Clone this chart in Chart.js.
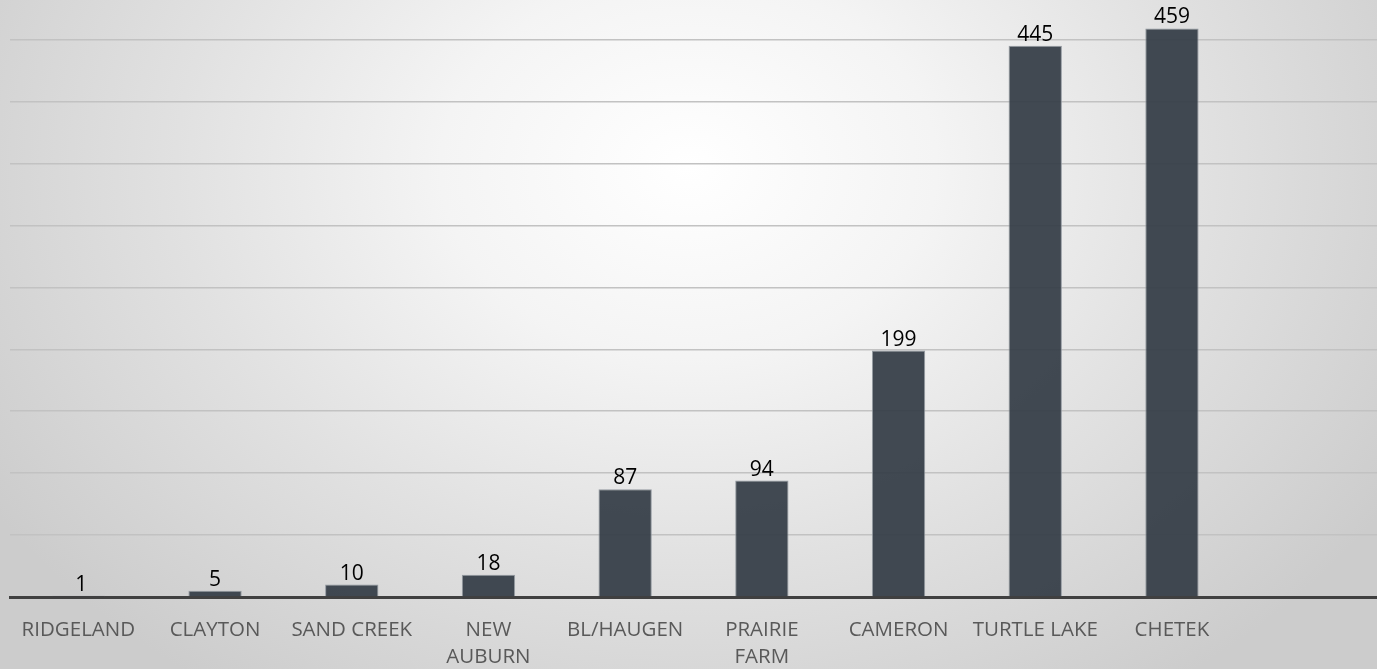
<!DOCTYPE html>
<html>
<head>
<meta charset="utf-8">
<script src="https://cdn.jsdelivr.net/npm/chart.js@4"></script>
<style>
  html, body { margin: 0; padding: 0; }
  body {
    width: 1377px; height: 669px; overflow: hidden;
    background: radial-gradient(ellipse 60% 95% at 50% 25%, #ffffff 0%, #f4f4f4 30%, #e1e1e1 62%, #cccccc 100%);
  }
  #wrap { position: relative; width: 1377px; height: 669px; }
  canvas { display: block; }
</style>
</head>
<body>
<div id="wrap"><canvas id="c" width="1377" height="669"></canvas></div>
<script>
const categories = ['RIDGELAND', 'CLAYTON', 'SAND CREEK', ['NEW', 'AUBURN'], 'BL/HAUGEN', ['PRAIRIE', 'FARM'], 'CAMERON', 'TURTLE LAKE', 'CHETEK', ''];
const values = [1, 5, 10, 18, 87, 94, 199, 445, 459, null];
const gridStep = 50;
const axisMax = 482;

const valueLabels = {
  id: 'valueLabels',
  afterDatasetsDraw(chart) {
    const ctx = chart.ctx;
    const meta = chart.getDatasetMeta(0);
    ctx.save();
    ctx.font = '21px "Open Sans", sans-serif';
    ctx.fillStyle = '#000000';
    ctx.textAlign = 'center';
    ctx.textBaseline = 'alphabetic';
    meta.data.forEach((bar, i) => {
      const v = values[i];
      if (v === null || v === undefined) return;
      ctx.fillText(String(v), bar.x + (v === 1 ? 3 : 0), bar.y - 5);
    });
    ctx.restore();
  }
};

new Chart(document.getElementById('c'), {
  type: 'bar',
  data: {
    labels: categories,
    datasets: [{
      data: values,
      backgroundColor: 'rgba(52,60,70,0.93)',
      borderColor: 'rgba(140,146,154,0.9)',
      borderWidth: 1,
      barPercentage: 0.39,
      categoryPercentage: 1.0
    }]
  },
  options: {
    responsive: false,
    animation: false,
    devicePixelRatio: 1,
    layout: { padding: { left: 10, right: 0, top: 0, bottom: 0 } },
    plugins: { legend: { display: false }, tooltip: { enabled: false } },
    scales: {
      x: {
        grid: { display: false, drawTicks: false },
        border: { display: true, color: '#404040', width: 3 },
        afterFit: (scale) => { scale.height = 72; },
        ticks: {
          color: '#595959',
          font: { family: '"Open Sans", sans-serif', size: 20.5, lineHeight: 1.32 },
          padding: 20,
          maxRotation: 0,
          autoSkip: false
        }
      },
      y: {
        min: 0,
        max: axisMax,
        display: true,
        border: { display: false },
        grid: {
          drawTicks: false,
          lineWidth: 1.5,
          color: (c) => (c.tick && c.tick.value % gridStep === 0) ? '#c2c2c2' : 'rgba(0,0,0,0)'
        },
        ticks: { display: false, stepSize: gridStep }
      }
    }
  },
  plugins: [valueLabels]
});
</script>
</body>
</html>
